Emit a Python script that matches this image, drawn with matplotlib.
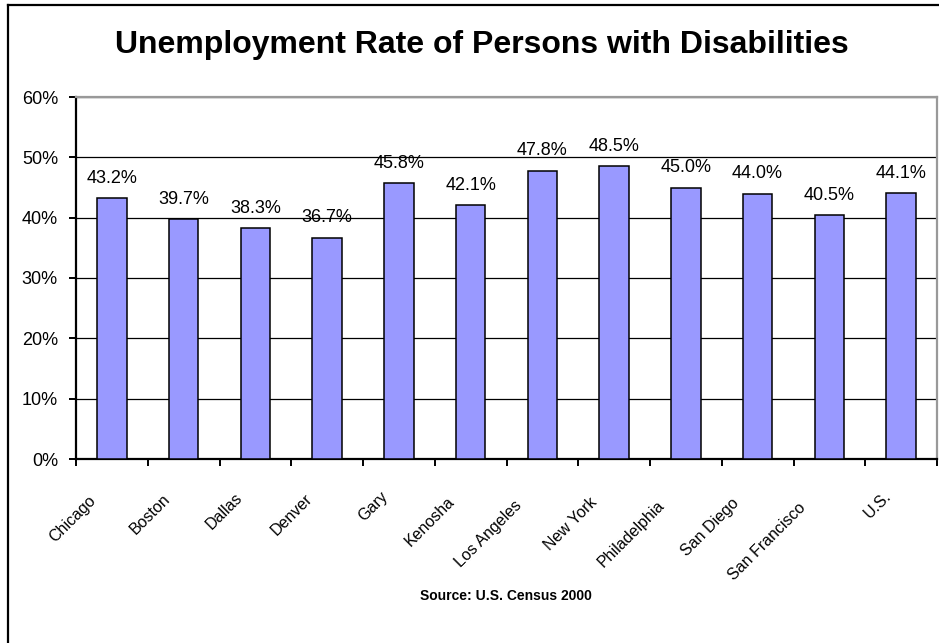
import matplotlib
matplotlib.use("Agg")
import matplotlib.pyplot as plt
import matplotlib.transforms as mtransforms
from matplotlib.lines import Line2D
import numpy as np

cities = ["Chicago", "Boston", "Dallas", "Denver", "Gary", "Kenosha",
          "Los Angeles", "New York", "Philadelphia", "San Diego",
          "San Francisco", "U.S."]
rates = [43.2, 39.7, 38.3, 36.7, 45.8, 42.1, 47.8, 48.5, 45.0, 44.0, 40.5, 44.1]
y_ticks = [0, 10, 20, 30, 40, 50, 60]
y_tick_labels = [f"{v}%" for v in y_ticks]

W, H = 939, 643
fig = plt.figure(figsize=(W / 100, H / 100), dpi=100)
fig.patch.set_facecolor("white")

# chart frame (top and left edges visible)
fig.add_artist(Line2D([8 / W, 8 / W], [0, 1 - 5 / H], transform=fig.transFigure,
                      color="black", lw=1.6))
fig.add_artist(Line2D([8 / W, 1], [1 - 5 / H, 1 - 5 / H], transform=fig.transFigure,
                      color="black", lw=1.6))

left, right, top, bottom = 76, 937, 97, 459
ax = fig.add_axes([left / W, 1 - bottom / H, (right - left) / W, (bottom - top) / H])

x = np.arange(len(cities))
ax.bar(x, rates, width=0.41, color="#9999FF", edgecolor="black", linewidth=1.1, zorder=3)

ax.set_xlim(-0.5, len(cities) - 0.5)
ax.set_ylim(0, 60)
ax.set_yticks(y_ticks)
ax.set_yticklabels(y_tick_labels, fontsize=13, family="Liberation Sans")
ax.yaxis.grid(True, color="black", linewidth=0.9, zorder=1)
ax.tick_params(axis="y", direction="out", length=5, width=1.4, pad=8)

# category labels at bar centres, tick marks at category boundaries
ax.set_xticks(x)
ax.set_xticklabels(cities, rotation=45, ha="right", va="center",
                   rotation_mode="anchor", family="Liberation Sans", fontsize=11.5)
ax.tick_params(axis="x", which="major", length=0, pad=0)
ax.set_xticks(np.arange(len(cities) + 1) - 0.5, minor=True)
ax.tick_params(axis="x", which="minor", direction="out", length=5, width=1.4)

for s in ("left", "bottom"):
    ax.spines[s].set_color("black")
    ax.spines[s].set_linewidth(1.6)
for s in ("top", "right"):
    ax.spines[s].set_color("#999999")
    ax.spines[s].set_linewidth(1.6)

for xi, v in zip(x, rates):
    ax.annotate(f"{v:.1f}%", (xi, v), xytext=(0, 8), textcoords="offset points",
                ha="center", va="bottom", fontsize=13, family="Liberation Sans")

fig.text(482 / W, 1 - 45 / H, "Unemployment Rate of Persons with Disabilities",
         ha="center", va="center", fontsize=23, fontweight="bold",
         family="Liberation Sans")
fig.text(506 / W, 1 - 596 / H, "Source: U.S. Census 2000", ha="center", va="center",
         fontsize=10, fontweight="bold", family="Liberation Sans")

# slanted labels sit lower and further left the longer they are
fig.canvas.draw()
for lbl in ax.get_xticklabels():
    w = lbl.get_window_extent().width
    dx = -4 - 0.27 * w
    dy = -(26 + 0.25 * w)
    lbl.set_transform(lbl.get_transform() +
                      mtransforms.ScaledTranslation(dx / 100, dy / 100, fig.dpi_scale_trans))

fig.savefig("out.png", dpi=100)
